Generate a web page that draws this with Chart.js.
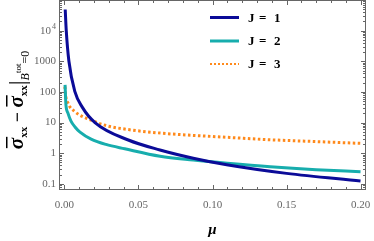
<!DOCTYPE html>
<html>
<head>
<meta charset="utf-8">
<script src="https://cdn.jsdelivr.net/npm/chart.js@4/dist/chart.umd.min.js"></script>
<style>
  html, body { margin: 0; padding: 0; background: #fff; }
  #wrap { width: 374px; height: 241px; position: relative; }
</style>
</head>
<body>
<div id="wrap"><canvas id="c"></canvas></div>
<script>
// values (log y axis)
const muJ1 = [0.0005, 0.0012, 0.003, 0.0071, 0.012, 0.0206, 0.0431, 0.0645, 0.087, 0.1096, 0.15, 0.2];
const valJ1 = [49000, 10000, 1000, 100, 32, 10, 2.7, 1.28, 0.69, 0.42, 0.22, 0.125];
const muJ2 = [0.0004, 0.0008, 0.001, 0.0024, 0.0044, 0.0071, 0.0105, 0.018, 0.028, 0.0407, 0.0646, 0.087, 0.11, 0.139, 0.17, 0.2];
const valJ2 = [170, 55, 37, 20, 11.2, 7.2, 4.9, 2.9, 1.94, 1.4, 0.8, 0.6, 0.47, 0.36, 0.29, 0.25];
const muJ3 = [0.0003, 0.0006, 0.0024, 0.0069, 0.018, 0.029, 0.0433, 0.0658, 0.11, 0.139, 0.17, 0.2];
const valJ3 = [150, 90, 43, 23, 12, 7.8, 5.9, 4.5, 3.3, 2.75, 2.4, 2.1];
const seriesNames = ['J = 1', 'J = 2', 'J = 3'];
const xTicks = [0, 0.05, 0.1, 0.15, 0.2];
const yTicks = [0.1, 1, 10, 100, 1000, 10000];

const COL = ['#0b0b98', '#17adad', '#ff8a1c'];
const GRAY = '#666';
const SERIF = "'Liberation Serif', 'DejaVu Serif', serif";

function pts(xs, ys) {
  return xs.map((x, i) => ({ x, y: ys[i] }));
}

// frame, inside ticks, tick labels, legend and axis titles (Mathematica look)
const framePlugin = {
  id: 'frame',
  afterDraw(chart) {
    const { ctx, chartArea: a } = chart;
    const xs = chart.scales.x, ys = chart.scales.y;
    ctx.save();
    ctx.strokeStyle = GRAY;
    ctx.lineWidth = 1;
    ctx.strokeRect(a.left + 0.5, a.top + 0.5, a.right - a.left - 1, a.bottom - a.top - 1);

    ctx.beginPath();
    for (let k = 0; k <= 20; k++) {
      const v = k / 100;
      const px = Math.round(xs.getPixelForValue(v)) + 0.5;
      const len = k % 5 === 0 ? 5 : 3;
      ctx.moveTo(px, a.bottom); ctx.lineTo(px, a.bottom - len);
      ctx.moveTo(px, a.top); ctx.lineTo(px, a.top + len);
    }
    for (let e = -2; e <= 5; e++) {
      for (let m = 1; m <= 9; m++) {
        const v = m * Math.pow(10, e);
        if (v < ys.min || v > ys.max) continue;
        const py = Math.round(ys.getPixelForValue(v)) + 0.5;
        const len = m === 1 ? 5 : 3;
        ctx.moveTo(a.left, py); ctx.lineTo(a.left + len, py);
        ctx.moveTo(a.right, py); ctx.lineTo(a.right - len, py);
      }
    }
    ctx.stroke();

    // tick labels
    ctx.fillStyle = GRAY;
    ctx.font = `11px ${SERIF}`;
    ctx.textAlign = 'center';
    ctx.textBaseline = 'middle';
    xTicks.forEach(v => ctx.fillText(v.toFixed(2), xs.getPixelForValue(v), 205));
    ctx.textAlign = 'right';
    yTicks.forEach(v => {
      const py = ys.getPixelForValue(v);
      if (v === 10000) {
        ctx.font = `8px ${SERIF}`;
        ctx.fillText('4', 56, py - 4);
        ctx.font = `11px ${SERIF}`;
        ctx.fillText('10', 51, py);
      } else {
        ctx.fillText(String(v), 56, py);
      }
    });

    // legend
    const lx0 = 210, lx1 = 239, ly = [17.5, 41, 64];
    const partX = [248, 259, 274];
    chart.data.datasets.forEach((ds, i) => {
      ctx.strokeStyle = ds.borderColor;
      ctx.lineWidth = i === 2 ? 2 : 3;
      ctx.setLineDash(i === 2 ? [2, 2] : []);
      ctx.beginPath();
      ctx.moveTo(lx0, ly[i]); ctx.lineTo(lx1, ly[i]);
      ctx.stroke();
      ctx.setLineDash([]);
      ctx.fillStyle = '#000';
      ctx.font = `bold 13px ${SERIF}`;
      ctx.textAlign = 'left';
      ds.label.split(' ').forEach((s, j) => ctx.fillText(s, partX[j], ly[i] + 1));
    });

    // x title
    ctx.fillStyle = '#000';
    ctx.font = `italic bold 15px ${SERIF}`;
    ctx.textAlign = 'center';
    ctx.fillText('μ', (a.left + a.right) / 2, 230);

    // y title, rotated
    ctx.translate(23, 100);
    ctx.rotate(-Math.PI / 2);
    ctx.textAlign = 'left';
    ctx.textBaseline = 'alphabetic';
    const parts = [
      { t: 'σ', f: `italic bold 21px ${SERIF}`, dy: 0, bar: true },
      { t: 'xx', f: `bold 11px ${SERIF}`, dy: 4 },
      { t: ' − ', f: `bold 18px ${SERIF}`, dy: 0 },
      { t: 'σ', f: `italic bold 21px ${SERIF}`, dy: 0, bar: true },
      { t: 'xx', f: `bold 11px ${SERIF}`, dy: 4 },
      { t: '|', f: `24px ${SERIF}`, dy: 2 },
      { t: 'B', f: `italic 12px ${SERIF}`, dy: 6 },
      { t: 'tot', f: `9px ${SERIF}`, dy: -2 },
      { t: '=0', f: `12px ${SERIF}`, dy: 6 }
    ];
    let total = 0;
    parts.forEach(p => { ctx.font = p.f; p.w = ctx.measureText(p.t).width; total += p.w; });
    let x = -total / 2;
    parts.forEach(p => {
      ctx.font = p.f;
      ctx.fillText(p.t, x, p.dy);
      if (p.bar) {
        ctx.fillRect(x + 1, -17, p.w, 1.5);
      }
      x += p.w;
    });
    ctx.restore();
  }
};

new Chart(document.getElementById('c'), {
  type: 'line',
  data: {
    datasets: [
      { label: seriesNames[0], data: pts(muJ1, valJ1), borderColor: COL[0], borderWidth: 3 },
      { label: seriesNames[1], data: pts(muJ2, valJ2), borderColor: COL[1], borderWidth: 3 },
      { label: seriesNames[2], data: pts(muJ3, valJ3), borderColor: COL[2], borderWidth: 3, borderDash: [2.5, 2.5] }
    ].map(d => Object.assign(d, { pointRadius: 0, fill: false, cubicInterpolationMode: 'monotone' }))
  },
  options: {
    responsive: true,
    maintainAspectRatio: false,
    animation: false,
    layout: { padding: { left: 59, right: 8, top: 0, bottom: 51 } },
    plugins: { legend: { display: false }, tooltip: { enabled: false } },
    scales: {
      x: { type: 'linear', min: -0.0037, max: 0.2037, display: false },
      y: { type: 'logarithmic', min: Math.pow(10, -1.2), max: 1e5, display: false }
    }
  },
  plugins: [framePlugin]
});
</script>
</body>
</html>
